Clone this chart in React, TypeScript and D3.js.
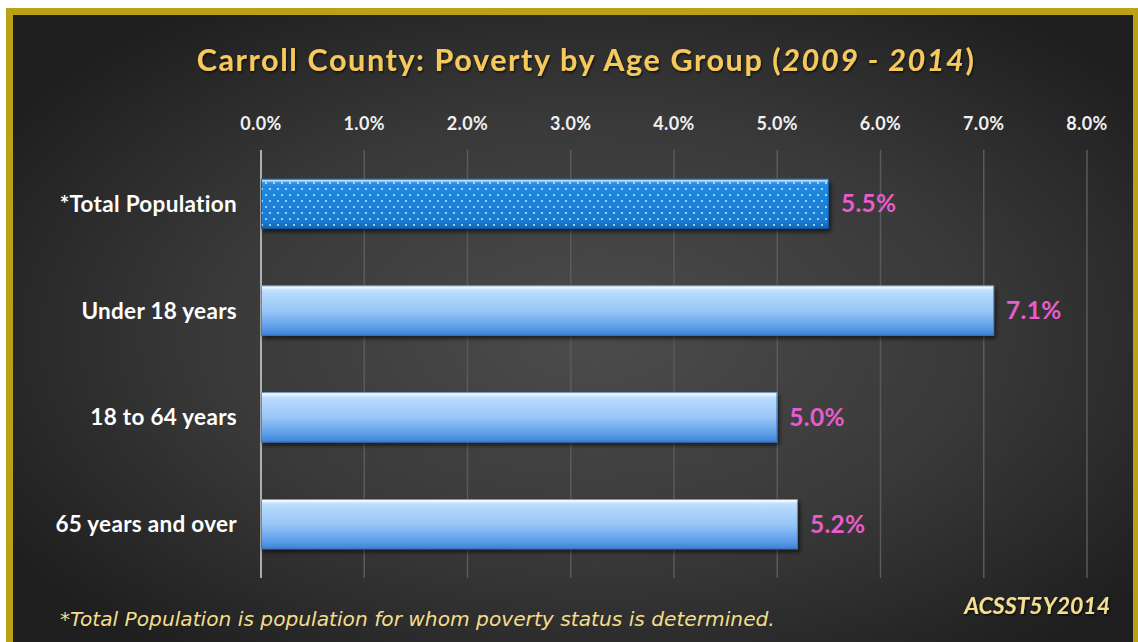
import * as d3 from 'd3';
import React from 'react';

const categories = ['*Total Population', 'Under 18 years', '18 to 64 years', '65 years and over'];
const values = [5.5, 7.1, 5.0, 5.2];
const ticks = [0, 1, 2, 3, 4, 5, 6, 7, 8];

const W = 1138;
const H = 642;

const App = () => {
  const x = d3.scaleLinear().domain([0, 8]).range([261, 1087]);
  const y = d3.scaleBand().domain(categories).range([150, 578]).paddingInner(0.53).paddingOuter(0.27);
  const fmt = d3.format('.1f');
  const labelFont = "'Lato', 'Open Sans', sans-serif";

  return (
    <div style={{ position: 'fixed', left: 0, top: 0, width: W, height: H, background: '#fff' }}>
      <svg width={W} height={H} style={{ display: 'block' }}>
        <defs>
          <radialGradient id="bg" cx="0.52" cy="0.5" r="0.62">
            <stop offset="0" stopColor="#4c4c4c" />
            <stop offset="0.55" stopColor="#393939" />
            <stop offset="1" stopColor="#1f1f1f" />
          </radialGradient>
          <linearGradient id="lightBar" x1="0" y1="0" x2="0" y2="1">
            <stop offset="0" stopColor="#eaf6ff" />
            <stop offset="0.12" stopColor="#b9dcff" />
            <stop offset="0.5" stopColor="#98c6f6" />
            <stop offset="0.85" stopColor="#5a9ce8" />
            <stop offset="1" stopColor="#3b7fd4" />
          </linearGradient>
          <linearGradient id="darkBar" x1="0" y1="0" x2="0" y2="1">
            <stop offset="0" stopColor="#4aa3ee" />
            <stop offset="0.15" stopColor="#2189e0" />
            <stop offset="0.85" stopColor="#1a7ad3" />
            <stop offset="1" stopColor="#1462b0" />
          </linearGradient>
          <pattern id="dots" width="8" height="12" patternUnits="userSpaceOnUse">
            <circle cx="2" cy="3" r="0.9" fill="#e8f4ff" />
            <circle cx="6" cy="9" r="0.9" fill="#e8f4ff" />
          </pattern>
          <filter id="shadow" x="-5%" y="-20%" width="110%" height="160%">
            <feDropShadow dx="2" dy="3" stdDeviation="2" floodColor="#000" floodOpacity="0.6" />
          </filter>
          <filter id="textShadow" x="-5%" y="-30%" width="110%" height="160%">
            <feDropShadow dx="1" dy="1.5" stdDeviation="1" floodColor="#000" floodOpacity="0.7" />
          </filter>
        </defs>

        <rect x={6} y={8} width={W} height={H} fill="#b9a215" />
        <rect x={13} y={15} width={1120} height={H} fill="url(#bg)" />

        <text
          x={586}
          y={71}
          textAnchor="middle"
          fill="#f6c95c"
          fontFamily={labelFont}
          fontWeight="bold"
          fontSize={30.5}
          letterSpacing={1.6}
          filter="url(#textShadow)"
        >
          Carroll County: Poverty by Age Group (<tspan fontStyle="italic">2009 - 2014</tspan>)
        </text>

        {ticks.map((t) => (
          <g key={t}>
            {t > 0 && (
              <line x1={x(t)} x2={x(t)} y1={150} y2={578} stroke="#5a5a5a" strokeWidth={1.5} />
            )}
            <text
              x={x(t)}
              y={130}
              textAnchor="middle"
              fill="#f0f0f0"
              fontFamily={labelFont}
              fontWeight="bold"
              fontSize={18}
              letterSpacing={0.4}
            >
              {fmt(t) + '%'}
            </text>
          </g>
        ))}
        <line x1={x(0)} x2={x(0)} y1={150} y2={578} stroke="#d8d8d8" strokeWidth={1.5} />

        {categories.map((c, i) => {
          const by = y(c) as number;
          const bh = y.bandwidth();
          const bw = x(values[i]) - x(0);
          return (
            <g key={c}>
              <g filter="url(#shadow)">
                <rect x={x(0)} y={by} width={bw} height={bh} fill={i === 0 ? 'url(#darkBar)' : 'url(#lightBar)'} />
              </g>
              {i === 0 && <rect x={x(0)} y={by} width={bw} height={bh} fill="url(#dots)" />}
              <rect
                x={x(0) + 0.5}
                y={by + 0.5}
                width={bw - 1}
                height={bh - 1}
                fill="none"
                stroke={i === 0 ? '#0f4f8f' : '#3a72b8'}
                strokeOpacity={0.7}
              />
              <line x1={x(0) + 1} x2={x(0) + bw - 1} y1={by + 2} y2={by + 2} stroke="#ffffff" strokeOpacity={0.6} strokeWidth={2} />
              <text
                x={237}
                y={by + bh / 2}
                dy="0.35em"
                textAnchor="end"
                fill="#ffffff"
                fontFamily={labelFont}
                fontWeight="bold"
                fontSize={22.5}
                letterSpacing={0.3}
              >
                {c}
              </text>
              <text
                x={x(values[i]) + 12}
                y={by + bh / 2}
                dy="0.35em"
                fill="#e85ccc"
                fontFamily={labelFont}
                fontWeight="bold"
                fontSize={24.5}
                letterSpacing={0.3}
              >
                {fmt(values[i]) + '%'}
              </text>
            </g>
          );
        })}

        <text
          x={60}
          y={626}
          fill="#f3dd8c"
          fontFamily="'DejaVu Sans', Verdana, sans-serif"
          fontStyle="italic"
          fontSize={20.2}
        >
          *Total Population is population for whom poverty status is determined.
        </text>
        <text
          x={1110}
          y={614}
          textAnchor="end"
          fill="#f5df8f"
          fontFamily={labelFont}
          fontWeight="bold"
          fontStyle="italic"
          fontSize={23}
          filter="url(#textShadow)"
        >
          ACSST5Y2014
        </text>
      </svg>
    </div>
  );
};

export default App;
